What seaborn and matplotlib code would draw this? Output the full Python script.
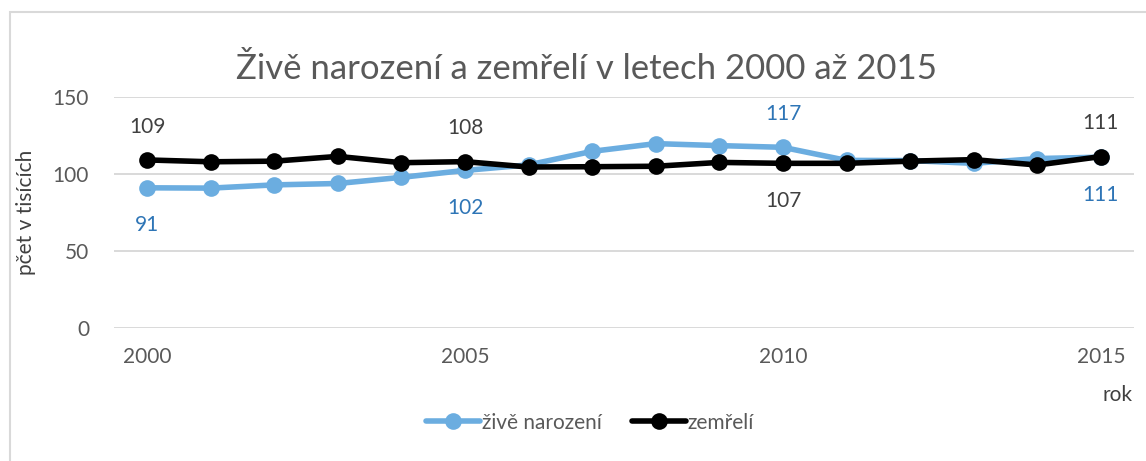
import pandas as pd
import matplotlib
matplotlib.use("Agg")
import matplotlib.pyplot as plt
import seaborn as sns
from matplotlib.patches import Rectangle

# ── Data (tisíce osob) ───────────────────────────────────────────────────────
roky = list(range(2000, 2016))
narozeni = [90.9, 90.7, 92.8, 93.7, 97.7, 102.2, 105.8, 114.6,
            119.6, 118.3, 117.2, 108.7, 108.6, 106.8, 109.9, 110.8]
zemreli = [109.0, 107.8, 108.2, 111.3, 107.2, 107.9, 104.4, 104.6,
           104.9, 107.4, 106.8, 106.8, 108.2, 109.2, 105.7, 111.2]
popisky_roky = [2000, 2005, 2010, 2015]
popisky_narozeni = ["91", "102", "117", "111"]
popisky_zemreli = ["109", "108", "107", "111"]
nad_narozeni = [False, False, True, False]
nad_zemreli = [True, True, False, True]

sns.set_theme(style="white")
plt.rcParams["font.family"] = ["Lato", "DejaVu Sans"]

MODRA = "#6BADE0"
CERNA = "#000000"

fig = plt.figure(figsize=(11.46, 4.61), dpi=100)
ax = fig.add_axes([0.0995, 0.289, 0.89, 0.501])

df = pd.DataFrame({"rok": roky, "živě narození": narozeni, "zemřelí": zemreli})
sns.lineplot(data=df, x="rok", y="živě narození", ax=ax, color=MODRA, lw=4,
             marker="o", markersize=12, markeredgewidth=0, label="živě narození",
             clip_on=False)
sns.lineplot(data=df, x="rok", y="zemřelí", ax=ax, color=CERNA, lw=4,
             marker="o", markersize=12, markeredgewidth=0, label="zemřelí",
             clip_on=False)

# ── Data labels ──────────────────────────────────────────────────────────────
for r, t, nad in zip(popisky_roky, popisky_narozeni, nad_narozeni):
    y = narozeni[roky.index(r)]
    ax.annotate(t, (r, y), xytext=(0, 24 if nad else -27), textcoords="offset points",
                ha="center", va="center", fontsize=15, color="#2E75B6")
for r, t, nad in zip(popisky_roky, popisky_zemreli, nad_zemreli):
    y = zemreli[roky.index(r)]
    ax.annotate(t, (r, y), xytext=(0, 24 if nad else -27), textcoords="offset points",
                ha="center", va="center", fontsize=15, color="#404040")

# ── Axes styling ─────────────────────────────────────────────────────────────
ax.set_xlim(1999.48, 2015.52)
ax.set_ylim(0, 150)
ax.set_yticks([0, 50, 100, 150])
ax.set_xticks(popisky_roky)
ax.grid(axis="y", color="#D9D9D9", lw=1.4)
ax.grid(axis="x", visible=False)
for s in ax.spines.values():
    s.set_visible(False)
ax.tick_params(axis="y", length=0, pad=18, labelsize=15, labelcolor="#595959")
ax.tick_params(axis="x", length=0, pad=14, labelsize=15, labelcolor="#595959")
ax.set_xlabel("")
ax.set_ylabel("pčet v tisících", fontsize=15, color="#404040", labelpad=12)
fig.text(0.988, 0.143, "rok", ha="right", va="center", fontsize=15, color="#404040")

fig.suptitle("Živě narození a zemřelí v letech 2000 až 2015", x=0.512, y=0.885,
             fontsize=25, color="#595959")

ax.get_legend().remove()
h, l = ax.get_legend_handles_labels()
fig.legend(h, l, loc="center", bbox_to_anchor=(0.515, 0.083), ncol=2, frameon=False,
           fontsize=15, labelcolor="#595959", handlelength=2.6, handletextpad=0.1,
           columnspacing=1.4)

# outer chart border
fig.patches.append(Rectangle((10 / 1146, -0.1), 1.2, (461 - 12) / 461 + 0.1,
                             transform=fig.transFigure, fill=False,
                             edgecolor="#D9D9D9", lw=1.5))

fig.savefig("out.png", dpi=100)
